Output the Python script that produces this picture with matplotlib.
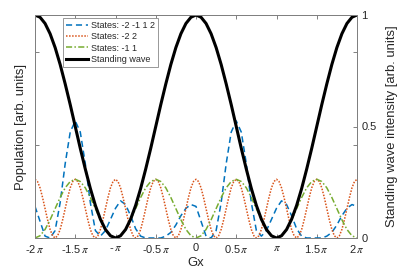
import numpy as np
import matplotlib
matplotlib.use("Agg")
import matplotlib.pyplot as plt

plt.rcParams['font.family'] = ['Liberation Sans', 'DejaVu Sans']
plt.rcParams['mathtext.fontset'] = 'stix'

# sample positions in units of pi
gx16 = np.linspace(-2, 2, 65)    # step pi/16
gx32 = np.linspace(-2, 2, 129)   # step pi/32

states_2112 = [0.17, 0.09, 0.01, 0.00, 0.04, 0.19, 0.40, 0.57, 0.63, 0.57, 0.40, 0.19, 0.04, 0.01, 0.04, 0.10,
               0.16, 0.20, 0.18, 0.12, 0.05, 0.01, 0.00, 0.00, 0.00, 0.00, 0.01, 0.03, 0.07, 0.12, 0.16, 0.18,
               0.17, 0.09, 0.01, 0.00, 0.04, 0.19, 0.40, 0.57, 0.63, 0.57, 0.40, 0.19, 0.04, 0.01, 0.04, 0.10,
               0.16, 0.20, 0.18, 0.12, 0.05, 0.01, 0.00, 0.00, 0.00, 0.00, 0.01, 0.03, 0.07, 0.12, 0.16, 0.18,
               0.17]

states_22 = [0.316, 0.304, 0.270, 0.218, 0.158, 0.098, 0.046, 0.012, 0.000, 0.012, 0.046, 0.098, 0.158, 0.218, 0.270, 0.304,
             0.316, 0.304, 0.270, 0.218, 0.158, 0.098, 0.046, 0.012, 0.000, 0.012, 0.046, 0.098, 0.158, 0.218, 0.270, 0.304,
             0.316, 0.304, 0.270, 0.218, 0.158, 0.098, 0.046, 0.012, 0.000, 0.012, 0.046, 0.098, 0.158, 0.218, 0.270, 0.304,
             0.316, 0.304, 0.270, 0.218, 0.158, 0.098, 0.046, 0.012, 0.000, 0.012, 0.046, 0.098, 0.158, 0.218, 0.270, 0.304,
             0.316, 0.304, 0.270, 0.218, 0.158, 0.098, 0.046, 0.012, 0.000, 0.012, 0.046, 0.098, 0.158, 0.218, 0.270, 0.304,
             0.316, 0.304, 0.270, 0.218, 0.158, 0.098, 0.046, 0.012, 0.000, 0.012, 0.046, 0.098, 0.158, 0.218, 0.270, 0.304,
             0.316, 0.304, 0.270, 0.218, 0.158, 0.098, 0.046, 0.012, 0.000, 0.012, 0.046, 0.098, 0.158, 0.218, 0.270, 0.304,
             0.316, 0.304, 0.270, 0.218, 0.158, 0.098, 0.046, 0.012, 0.000, 0.012, 0.046, 0.098, 0.158, 0.218, 0.270, 0.304,
             0.316]

states_11 = [0.000, 0.012, 0.046, 0.098, 0.158, 0.218, 0.270, 0.304, 0.316, 0.304, 0.270, 0.218, 0.158, 0.098, 0.046, 0.012,
             0.000, 0.012, 0.046, 0.098, 0.158, 0.218, 0.270, 0.304, 0.316, 0.304, 0.270, 0.218, 0.158, 0.098, 0.046, 0.012,
             0.000, 0.012, 0.046, 0.098, 0.158, 0.218, 0.270, 0.304, 0.316, 0.304, 0.270, 0.218, 0.158, 0.098, 0.046, 0.012,
             0.000, 0.012, 0.046, 0.098, 0.158, 0.218, 0.270, 0.304, 0.316, 0.304, 0.270, 0.218, 0.158, 0.098, 0.046, 0.012,
             0.000]

standing_wave = [1.000, 0.990, 0.962, 0.916, 0.854, 0.778, 0.691, 0.598, 0.500, 0.402, 0.309, 0.222, 0.146, 0.084, 0.038, 0.010,
                 0.000, 0.010, 0.038, 0.084, 0.146, 0.222, 0.309, 0.402, 0.500, 0.598, 0.691, 0.778, 0.854, 0.916, 0.962, 0.990,
                 1.000, 0.990, 0.962, 0.916, 0.854, 0.778, 0.691, 0.598, 0.500, 0.402, 0.309, 0.222, 0.146, 0.084, 0.038, 0.010,
                 0.000, 0.010, 0.038, 0.084, 0.146, 0.222, 0.309, 0.402, 0.500, 0.598, 0.691, 0.778, 0.854, 0.916, 0.962, 0.990,
                 1.000]

xticks = [-2, -1.5, -1, -0.5, 0, 0.5, 1, 1.5, 2]
xticklabels = [r'-2$\,\pi$', r'-1.5$\,\pi$', r'-$\,\pi$', r'-0.5$\,\pi$', '0',
               r'0.5$\,\pi$', r'$\pi$', r'1.5$\,\pi$', r'2$\,\pi$']
labels = ['States: -2 -1 1 2', 'States: -2 2', 'States: -1 1', 'Standing wave']

spine_c = '#808080'
text_c = '#262626'

fig = plt.figure(figsize=(4.15, 2.74), dpi=100)
ax = fig.add_axes([35/415, 1-238/274, 322/415, 223/274])
ax2 = ax.twinx()

h1, = ax.plot(gx16, states_2112, color='#0072BD', lw=1.1, ls=(0, (4, 2.5)))
h2, = ax.plot(gx32, states_22, color='#D95319', lw=1.1, ls=(0, (1, 1)))
h3, = ax.plot(gx16, states_11, color='#77AC30', lw=1.1, ls=(0, (4, 1.5, 1, 1.5)))
h4, = ax2.plot(gx16, standing_wave, color='black', lw=2.2)

ax.set_xlim(-2, 2)
ax.set_ylim(0, 1.2)
ax2.set_ylim(0, 1)
ax.set_xticks(xticks)
ax.set_xticklabels(xticklabels)
ax.set_yticks([0, 0.5, 1])
ax.set_yticklabels([])
ax2.set_yticks([0, 0.5, 1])
ax2.set_yticklabels(['0', '0.5', '1'])

for a in (ax, ax2):
    for s in a.spines.values():
        s.set_color(spine_c)
        s.set_linewidth(0.7)
ax.tick_params(axis='x', direction='in', top=True, bottom=True, length=3, width=0.7,
               color=spine_c, labelsize=8, labelcolor=text_c, pad=3.5)
ax.tick_params(axis='y', direction='in', left=True, right=True, length=3, width=0.7, color=spine_c)
ax2.tick_params(axis='y', direction='in', left=False, right=True, length=3, width=0.7,
                color=spine_c, labelsize=8, labelcolor=text_c, pad=3)

ax.set_xlabel('Gx', fontsize=9.4, color=text_c, labelpad=1.5)
ax.set_ylabel('Population [arb. units]', fontsize=9.4, color=text_c, labelpad=2.5)
ax2.set_ylabel('Standing wave intensity [arb. units]', fontsize=9.4, color=text_c, labelpad=7)

leg = ax2.legend([h1, h2, h3, h4], labels, loc='upper left', bbox_to_anchor=(0.087, 0.987),
                 borderaxespad=0, fontsize=6.5, frameon=True, fancybox=False, edgecolor='#888888',
                 framealpha=1, handlelength=2.4, handletextpad=0.35, labelspacing=0.25, borderpad=0.35)
leg.get_frame().set_linewidth(0.6)
for t in leg.get_texts():
    t.set_color(text_c)

fig.savefig('out.png', dpi=100)
